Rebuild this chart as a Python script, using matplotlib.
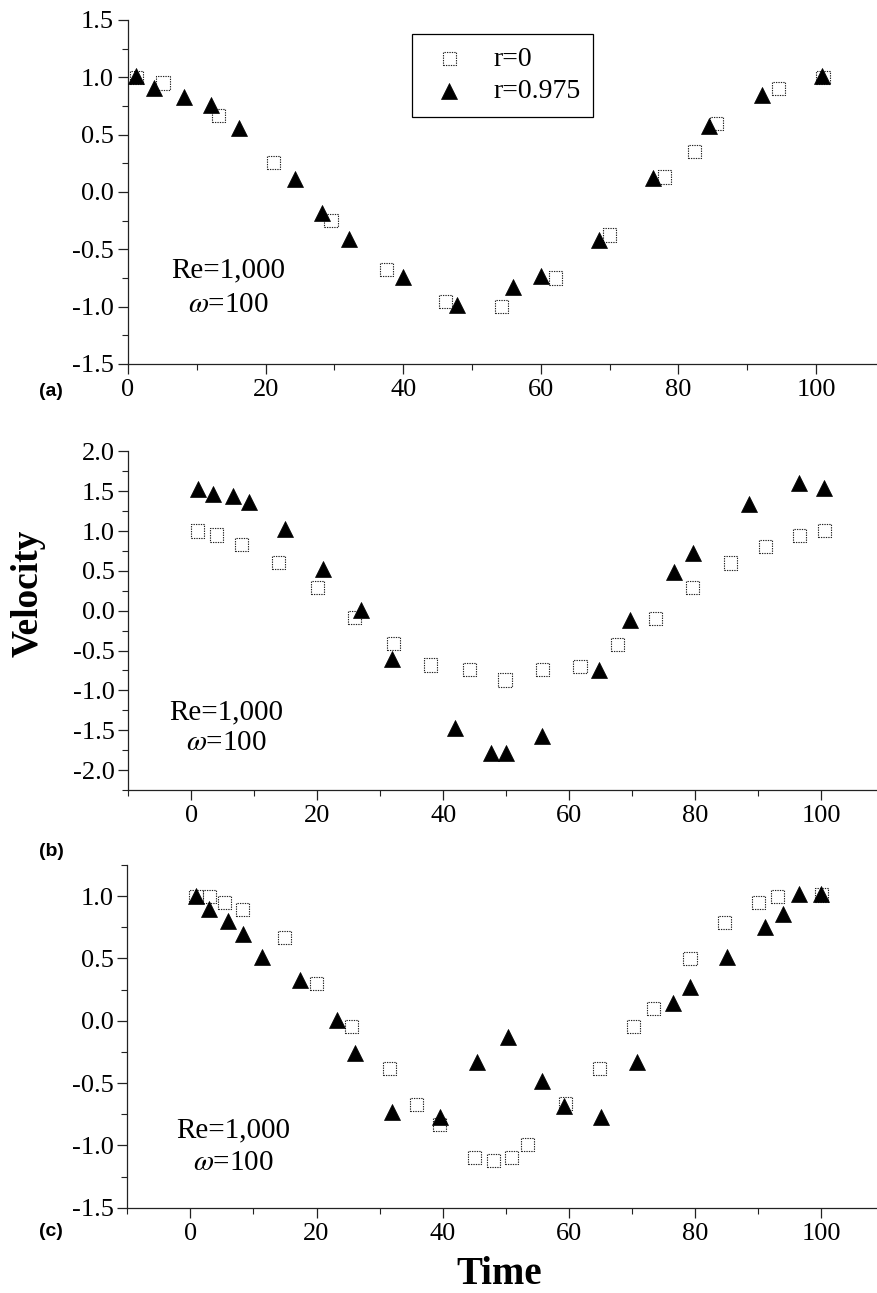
import matplotlib
matplotlib.use("Agg")
import matplotlib.pyplot as plt
from matplotlib.ticker import MultipleLocator, FormatStrFormatter

plt.rcParams['font.family'] = ['Liberation Serif', 'DejaVu Serif']
plt.rcParams['mathtext.fontset'] = 'stix'
plt.rcParams['axes.unicode_minus'] = False

# ---------------- data ----------------
# panel (a)
a_sq_t = [1.2, 5.1, 13.1, 21.1, 29.5, 37.6, 46.1, 54.3, 62.1, 70.0, 78.0, 82.3, 85.5, 94.5, 101.0]
a_sq_v = [1.0, 0.95, 0.67, 0.255, -0.25, -0.675, -0.955, -1.0, -0.75, -0.375, 0.13, 0.35, 0.6, 0.9, 1.0]
a_tr_t = [1.1, 3.8, 8.1, 12.1, 16.1, 24.2, 28.2, 32.1, 40.0, 47.8, 56.0, 60.0, 68.5, 76.3, 84.5, 92.2, 100.9]
a_tr_v = [1.01, 0.91, 0.83, 0.76, 0.56, 0.11, -0.18, -0.41, -0.74, -0.985, -0.83, -0.73, -0.42, 0.12, 0.575, 0.85, 1.01]

# panel (b)
b_sq_t = [1.0, 4.0, 8.0, 13.9, 20.0, 25.9, 32.1, 38.0, 44.2, 49.8, 55.7, 61.7, 67.7, 73.7, 79.6, 85.6, 91.1, 96.5, 100.5]
b_sq_v = [1.0, 0.95, 0.83, 0.605, 0.29, -0.08, -0.41, -0.68, -0.74, -0.87, -0.74, -0.70, -0.42, -0.10, 0.29, 0.60, 0.81, 0.94, 1.01]
b_tr_t = [1.0, 3.4, 6.6, 9.1, 14.9, 20.9, 26.9, 31.8, 41.8, 47.6, 49.9, 55.7, 64.7, 69.7, 76.6, 79.6, 88.5, 96.5, 100.4]
b_tr_v = [1.53, 1.47, 1.445, 1.36, 1.03, 0.52, 0.01, -0.605, -1.47, -1.78, -1.78, -1.575, -0.75, -0.11, 0.48, 0.73, 1.34, 1.60, 1.545]

# panel (c)
c_sq_t = [0.9, 3.0, 5.4, 8.2, 14.9, 20.0, 25.6, 31.6, 35.8, 39.5, 45.0, 48.0, 50.9, 53.4, 59.4, 64.9, 70.3, 73.4, 79.2, 84.7, 90.1, 93.1, 100.0]
c_sq_v = [1.0, 0.995, 0.95, 0.895, 0.67, 0.30, -0.045, -0.38, -0.67, -0.83, -1.095, -1.12, -1.095, -0.99, -0.665, -0.38, -0.045, 0.10, 0.50, 0.79, 0.95, 1.0, 1.01]
c_tr_t = [0.9, 3.0, 5.9, 8.4, 11.4, 17.4, 23.2, 26.1, 32.0, 39.5, 45.5, 50.4, 55.8, 59.3, 65.1, 70.8, 76.5, 79.2, 85.0, 91.1, 94.0, 96.5, 100.0]
c_tr_v = [1.0, 0.90, 0.80, 0.695, 0.51, 0.33, 0.01, -0.26, -0.73, -0.77, -0.33, -0.13, -0.48, -0.68, -0.775, -0.33, 0.14, 0.27, 0.51, 0.755, 0.86, 1.015, 1.015]

legend_labels = ['r=0', 'r=0.975']
panel_labels = ['(a)', '(b)', '(c)']
annot_re = 'Re=1,000'
annot_om = r'$\omega$=100'

# ---------------- figure ----------------
W, H = 878, 1293
fig = plt.figure(figsize=(W / 100, H / 100), dpi=100)

def rect(left, top, bottom, right=W):
    return [left / W, 1 - bottom / H, (right - left) / W, (bottom - top) / H]

ax_a = fig.add_axes(rect(128, 20, 364))
ax_b = fig.add_axes(rect(128.3, 451.4, 790))
ax_c = fig.add_axes(rect(127.3, 865, 1207.7))

panels = [
    (ax_a, a_sq_t, a_sq_v, a_tr_t, a_tr_v, (0, 109), (-1.5, 1.5), 0.5),
    (ax_b, b_sq_t, b_sq_v, b_tr_t, b_tr_v, (-10, 109), (-2.25, 2.0), 0.5),
    (ax_c, c_sq_t, c_sq_v, c_tr_t, c_tr_v, (-10, 109), (-1.5, 1.25), 0.5),
]

for ax, st, sv, tt, tv, xl, yl, ymaj in panels:
    ax.scatter(st, sv, marker='s', s=9.5 ** 2, facecolors='white', edgecolors='#222222',
               linewidths=0.8, linestyle=(0, (1.2, 1.0)), zorder=3, label=legend_labels[0])
    ax.scatter(tt, tv, marker='^', s=11.5 ** 2, facecolors='black', edgecolors='black',
               linewidths=0.5, zorder=4, label=legend_labels[1])
    ax.set_xlim(*xl)
    ax.set_ylim(*yl)
    ax.xaxis.set_major_locator(MultipleLocator(20))
    ax.xaxis.set_minor_locator(MultipleLocator(10))
    ax.yaxis.set_major_locator(MultipleLocator(ymaj))
    ax.yaxis.set_minor_locator(MultipleLocator(0.25))
    ax.yaxis.set_major_formatter(FormatStrFormatter('%.1f'))
    for sp in ['top', 'right']:
        ax.spines[sp].set_visible(False)
    for sp in ['left', 'bottom']:
        ax.spines[sp].set_linewidth(0.9)
        ax.spines[sp].set_color('#222222')
    ax.tick_params(axis='both', which='major', direction='out', length=7, width=0.9,
                   labelsize=19, color='#222222', pad=3)
    ax.tick_params(axis='both', which='minor', direction='out', length=4, width=0.8,
                   color='#222222')
    ax.tick_params(axis='x', which='major', pad=4)

ax_a.set_xticks([0, 20, 40, 60, 80, 100])

# annotations (Re, omega)
ann_pos = [(228, 270, 305), (226, 712, 743), (233, 1130, 1163)]
for (xc, yre, yom) in ann_pos:
    fig.text(xc / W, 1 - yre / H, annot_re, fontsize=21, ha='center', va='center')
    fig.text(xc / W, 1 - yom / H, annot_om, fontsize=21, ha='center', va='center')

# panel labels
for lab, yc in zip(panel_labels, [391, 852, 1231]):
    fig.text(51 / W, 1 - yc / H, lab, fontsize=14, fontweight='bold',
             family='Liberation Sans', ha='center', va='center')

# axis labels
fig.text(28 / W, 1 - 593 / H, 'Velocity', fontsize=27, fontweight='bold',
         rotation=90, ha='center', va='center')
fig.text(499 / W, 1 - 1274 / H, 'Time', fontsize=28, fontweight='bold',
         ha='center', va='center')

# legend
leg = ax_a.legend(loc='upper left', bbox_to_anchor=(411.7 / W, 1 - 34 / H),
                  bbox_transform=fig.transFigure, fontsize=20, frameon=True,
                  fancybox=False, edgecolor='black', framealpha=1, scatterpoints=1,
                  borderpad=0.45, handlelength=1.8, handletextpad=0.7, labelspacing=0.25,
                  borderaxespad=0)
leg.get_frame().set_linewidth(0.9)

fig.savefig('out.png', dpi=100, facecolor='white')
